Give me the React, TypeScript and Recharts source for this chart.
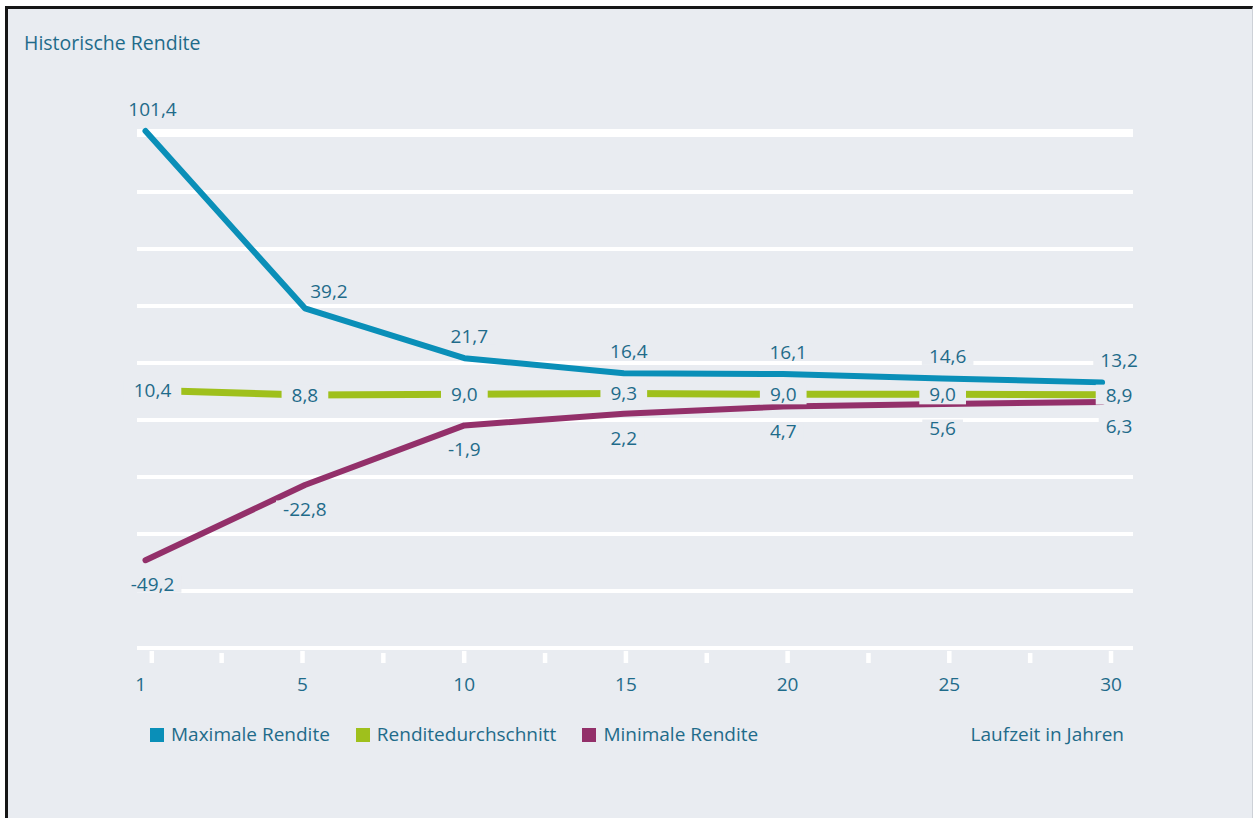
import React from 'react';
import { CartesianGrid, LabelList, Line, LineChart, XAxis, YAxis } from 'recharts';

// Laufzeit in Jahren
const years = [1, 5, 10, 15, 20, 25, 30];
const maxRendite = [101.4, 39.2, 21.7, 16.4, 16.1, 14.6, 13.2];
const avgRendite = [10.4, 8.8, 9.0, 9.3, 9.0, 9.0, 8.9];
const minRendite = [-49.2, -22.8, -1.9, 2.2, 4.7, 5.6, 6.3];
const yTicks = [-80, -60, -40, -20, 0, 20, 40, 60, 80, 100];

const BG = '#e9ecf1';
const TEXT = '#1f6b8a';
const BLUE = '#0a8fb8';
const GREEN = '#9fc01c';
const PURPLE = '#93306a';
const FONT = '"Open Sans", sans-serif';

const data = years.map((year, i) => ({
  idx: i,
  year,
  max: maxRendite[i],
  avg: avgRendite[i],
  min: minRendite[i],
}));

// major tick at every year, minor tick halfway between
const xTicks = years.flatMap((_, i) => (i === 0 ? [0] : [i - 0.5, i]));

const legendItems = [
  { name: 'Maximale Rendite', color: BLUE },
  { name: 'Renditedurchschnitt', color: GREEN },
  { name: 'Minimale Rendite', color: PURPLE },
];

const fmt = (v: number) => v.toFixed(1).replace('.', ',');
const textWidth = (s: string) =>
  [...s].reduce((w, c) => w + (c === ',' ? 4.9 : c === '-' ? 6.2 : 10.9), 0);

function makeLabel(kind: 'max' | 'avg' | 'min') {
  return (props: any) => {
    const { x, y, value, index } = props;
    const last = index === years.length - 1;
    let dx = 0;
    let dy = 0;
    if (kind === 'max') {
      dy = -22;
      dx = 5;
      if (index === 1) {
        dx = 24;
        dy = -17;
      }
    }
    if (kind === 'min') dy = 24;
    if (index === 0) dx = 7;
    if (last) dx = 17;
    const label = fmt(value);
    const w = textWidth(label) + (kind === 'avg' ? 20 : 14);
    const h = kind === 'avg' ? 20 : 17;
    const cx = x + dx;
    const cy = y + dy;
    return (
      <g>
        <rect x={cx - w / 2} y={cy - h / 2} width={w} height={h} fill={BG} />
        <text x={cx} y={cy + 7} textAnchor="middle" fontSize={19} fontFamily={FONT} fill={TEXT}>
          {label}
        </text>
      </g>
    );
  };
}

const XTick = (props: any) => {
  const { x, y, payload } = props;
  const v = payload.value as number;
  const major = Number.isInteger(v);
  const mx = v === 0 ? x + 11 : x;
  return (
    <g>
      <line x1={mx} x2={mx} y1={y + (major ? 3 : 5)} y2={y + 15} stroke="#fff" strokeWidth={4.5} />
      {major && (
        <text x={x} y={y + 43} textAnchor="middle" fontSize={19} fontFamily={FONT} fill={TEXT}>
          {years[v]}
        </text>
      )}
    </g>
  );
};

// y axis has no visible labels, but its ticks still drive the grid rows
const NoTick = () => <g />;

export default function App() {
  return (
    <div
      style={{
        position: 'absolute',
        left: 0,
        top: 0,
        width: 1253,
        height: 818,
        background: '#fff',
        overflow: 'hidden',
        fontFamily: FONT,
      }}
    >
      <div
        style={{
          position: 'absolute',
          left: 5,
          top: 6,
          width: 1248,
          height: 830,
          boxSizing: 'border-box',
          background: BG,
          borderTop: '3px solid #161616',
          borderLeft: '3px solid #161616',
          borderRight: '1px solid #cdd1d7',
        }}
      />
      <div
        style={{
          position: 'absolute',
          left: 24,
          top: 33,
          fontSize: 19.5,
          lineHeight: 1,
          color: TEXT,
          whiteSpace: 'nowrap',
        }}
      >
        Historische Rendite
      </div>

      <div style={{ position: 'absolute', left: 0, top: 0 }}>
        <LineChart
          width={1253}
          height={818}
          data={data}
          margin={{ top: 131, right: 120, bottom: 130, left: 137 }}
        >
          <CartesianGrid xAxisId="data" vertical={false} stroke="#fff" strokeWidth={4} />
          <XAxis
            xAxisId="ticks"
            type="number"
            dataKey="idx"
            domain={[-0.0235, 6.136]}
            allowDataOverflow
            ticks={xTicks}
            interval={0}
            height={40}
            tickSize={0}
            tickMargin={0}
            tickLine={false}
            axisLine={{ stroke: '#fff', strokeWidth: 4 }}
            tick={<XTick />}
          />
          <XAxis
            xAxisId="data"
            type="number"
            dataKey="idx"
            domain={[-0.0533, 6.194]}
            allowDataOverflow
            height={0}
            hide
          />
          <YAxis
            type="number"
            domain={[-80, 100]}
            ticks={yTicks}
            interval={0}
            width={0}
            tick={<NoTick />}
            axisLine={false}
            tickLine={false}
          />
          <Line
            xAxisId="data"
            dataKey="max"
            stroke={BLUE}
            strokeWidth={6}
            strokeLinecap="round"
            strokeLinejoin="round"
            dot={false}
            activeDot={false}
            isAnimationActive={false}
          >
            <LabelList dataKey="max" content={makeLabel('max')} />
          </Line>
          <Line
            xAxisId="data"
            dataKey="avg"
            stroke={GREEN}
            strokeWidth={7}
            strokeLinecap="round"
            dot={false}
            activeDot={false}
            isAnimationActive={false}
          >
            <LabelList dataKey="avg" content={makeLabel('avg')} />
          </Line>
          <Line
            xAxisId="data"
            dataKey="min"
            stroke={PURPLE}
            strokeWidth={6}
            strokeLinecap="round"
            strokeLinejoin="round"
            dot={false}
            activeDot={false}
            isAnimationActive={false}
          >
            <LabelList dataKey="min" content={makeLabel('min')} />
          </Line>
        </LineChart>
      </div>

      <div
        style={{
          position: 'absolute',
          left: 150,
          top: 725,
          display: 'flex',
          gap: 26,
          fontSize: 19,
          lineHeight: 1,
          color: TEXT,
          whiteSpace: 'nowrap',
        }}
      >
        {legendItems.map((item) => (
          <div key={item.name} style={{ display: 'flex', alignItems: 'flex-start' }}>
            <span
              style={{
                display: 'inline-block',
                width: 14,
                height: 14,
                marginTop: 3,
                marginRight: 7,
                background: item.color,
              }}
            />
            <span>{item.name}</span>
          </div>
        ))}
      </div>
      <div
        style={{
          position: 'absolute',
          right: 129,
          top: 725,
          fontSize: 19,
          lineHeight: 1,
          color: TEXT,
          whiteSpace: 'nowrap',
        }}
      >
        Laufzeit in Jahren
      </div>
    </div>
  );
}
